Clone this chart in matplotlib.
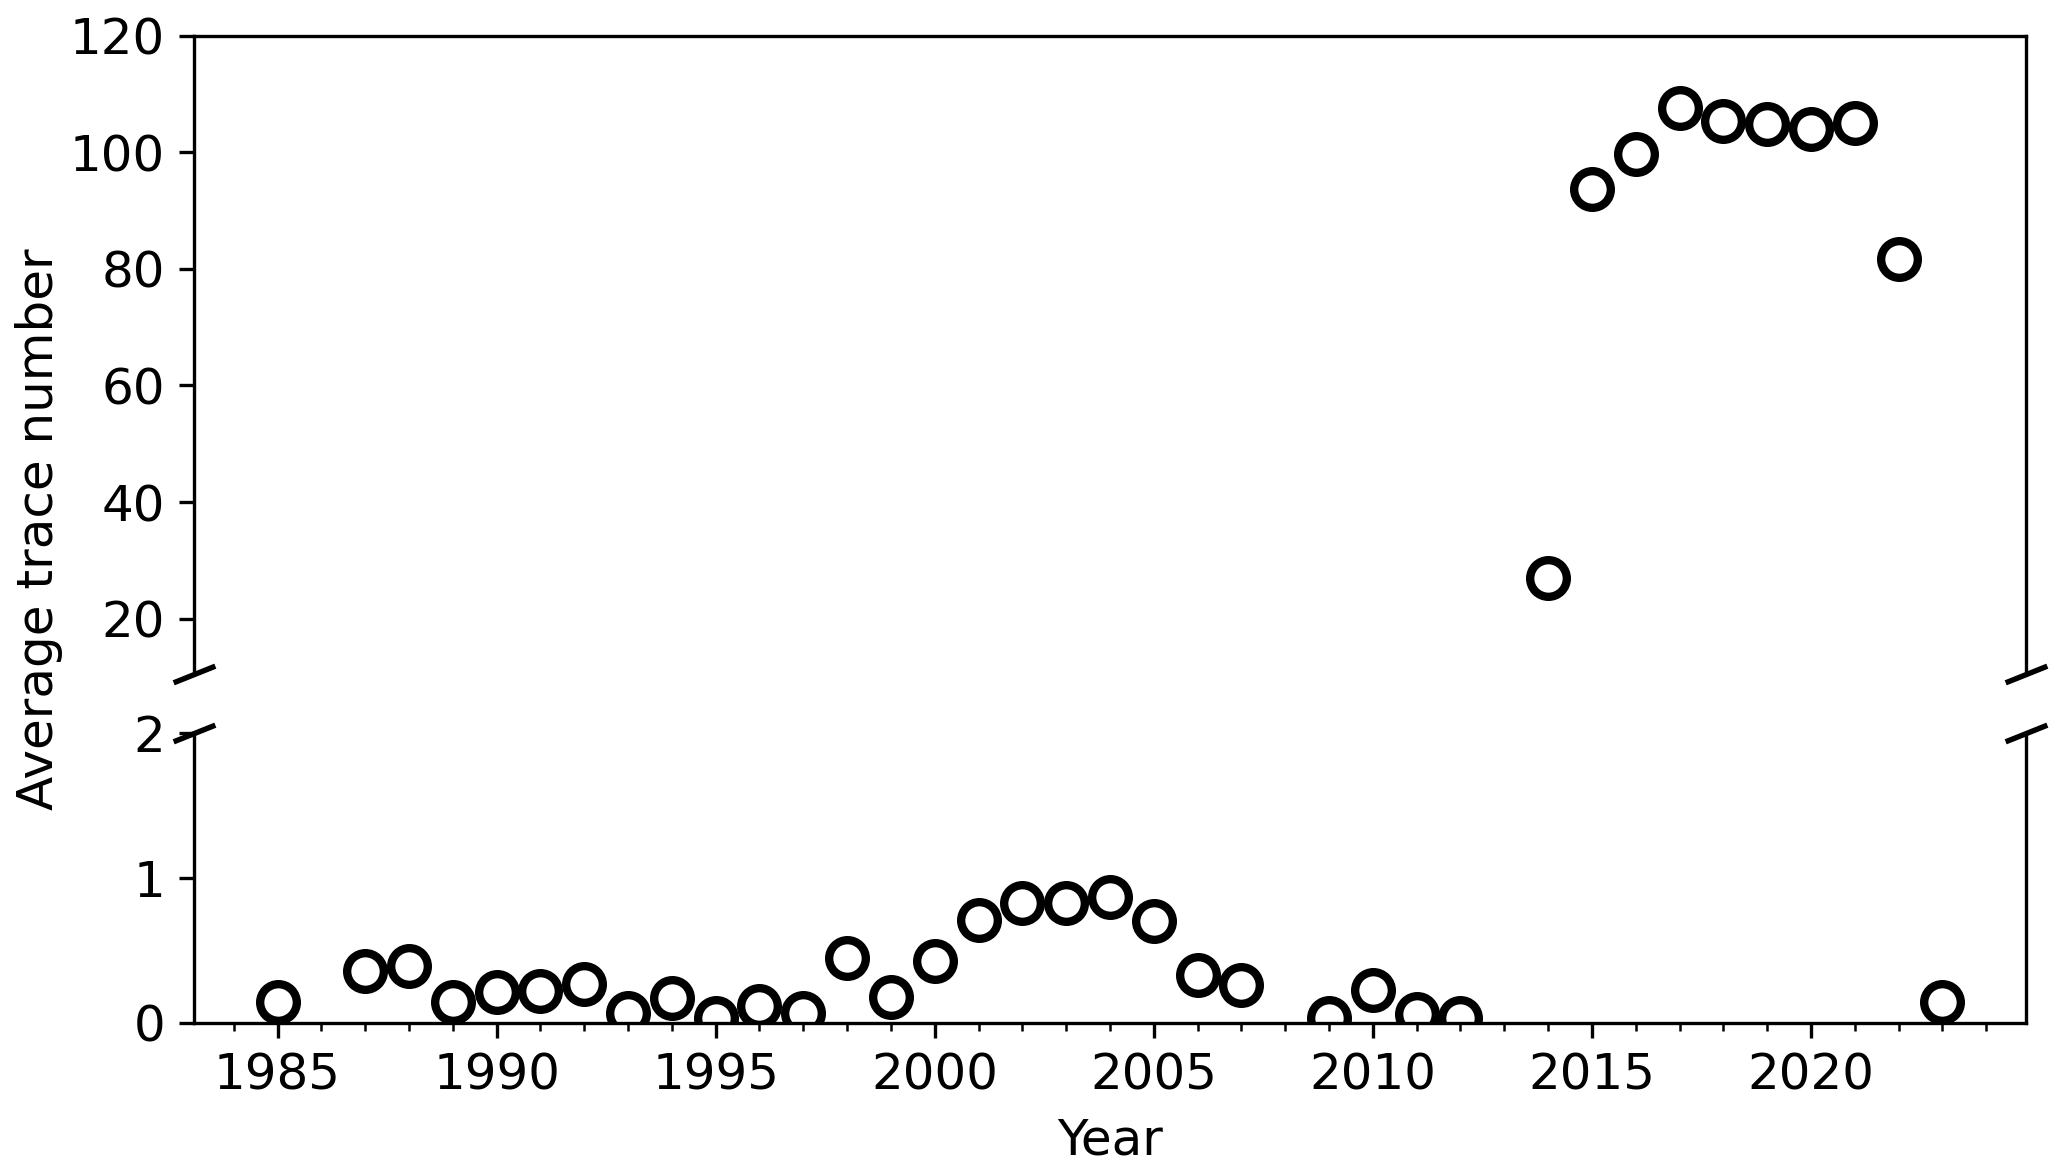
import matplotlib
matplotlib.use("Agg")
import matplotlib.pyplot as plt
from matplotlib.ticker import MultipleLocator
import numpy as np

# 年ごとの平均トレース数
years = [1985, 1987, 1988, 1989, 1990, 1991, 1992, 1993, 1994, 1995,
         1996, 1997, 1998, 1999, 2000, 2001, 2002, 2003, 2004, 2005,
         2006, 2007, 2009, 2010, 2011, 2012, 2014, 2015, 2016, 2017,
         2018, 2019, 2020, 2021, 2022, 2023]
avg_trace = [0.14, 0.36, 0.39, 0.14, 0.21, 0.22, 0.27, 0.065, 0.17, 0.03,
             0.115, 0.07, 0.45, 0.175, 0.43, 0.71, 0.83, 0.825, 0.87, 0.70,
             0.33, 0.26, 0.035, 0.225, 0.06, 0.03, 27.0, 93.6, 99.6, 107.6,
             105.4, 104.9, 104.0, 105.0, 81.7, 0.145]

top_ticks = [20, 40, 60, 80, 100, 120]
bottom_ticks = [0, 1, 2]

plt.rcParams["font.size"] = 12

fig = plt.figure(figsize=(2067 / 300, 1169 / 300), dpi=300)
ax_top = fig.add_axes([0.094, 0.4234, 0.886, 0.5462])
ax_bot = fig.add_axes([0.094, 0.1251, 0.886, 0.2476], sharex=ax_top)

for ax in (ax_top, ax_bot):
    ax.plot(years, avg_trace, "o", ms=8.8, mfc="none", mec="black", mew=2)

# 上下の軸範囲
ax_top.set_ylim(10.5, 120)
ax_bot.set_ylim(0, 2)
ax_top.set_yticks(top_ticks)
ax_bot.set_yticks(bottom_ticks)

ax_top.spines["bottom"].set_visible(False)
ax_bot.spines["top"].set_visible(False)
ax_top.tick_params(axis="x", which="both", bottom=False, labelbottom=False)

ax_bot.xaxis.set_major_locator(MultipleLocator(5))
ax_bot.xaxis.set_minor_locator(MultipleLocator(1))

# 軸の切れ目マーク
d = 0.4
kw = dict(marker=[(-1, -d), (1, d)], markersize=10, linestyle="none",
          color="k", mec="k", mew=1.3, clip_on=False)
ax_top.plot([0, 1], [0, 0], transform=ax_top.transAxes, **kw)
ax_bot.plot([0, 1], [1, 1], transform=ax_bot.transAxes, **kw)

ax_bot.set_xlabel("Year")
fig.text(0.019, 0.5475, "Average trace number", rotation=90,
         ha="center", va="center")

fig.savefig("out.png", dpi=300)
